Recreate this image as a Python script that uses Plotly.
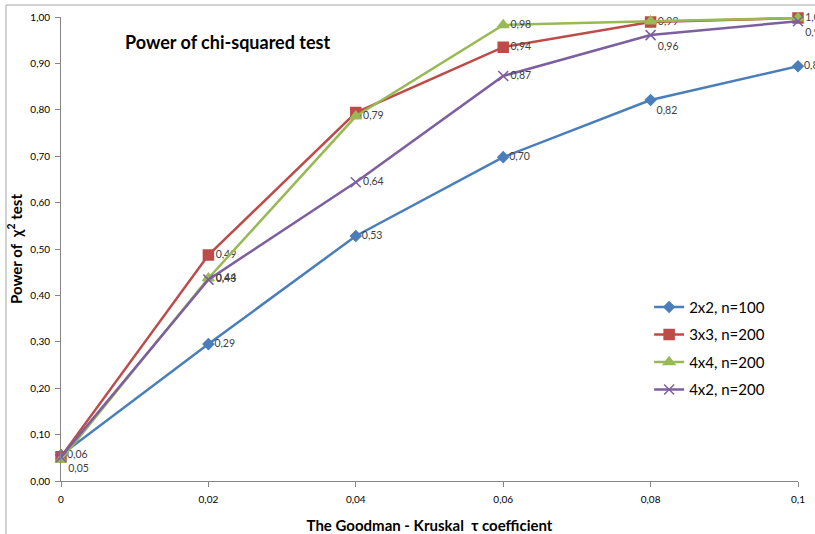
import plotly.graph_objects as go

tau = [0, 0.02, 0.04, 0.06, 0.08, 0.1]
names = ["2x2, n=100", "3x3, n=200", "4x4, n=200", "4x2, n=200"]
power_2x2 = [0.056, 0.295, 0.528, 0.698, 0.821, 0.894]
power_3x3 = [0.052, 0.487, 0.794, 0.935, 0.989, 0.998]
power_4x4 = [0.046, 0.437, 0.786, 0.983, 0.991, 0.998]
power_4x2 = [0.052, 0.434, 0.644, 0.873, 0.961, 0.991]
series = [power_2x2, power_3x3, power_4x4, power_4x2]

colors = ["#4A7EBB", "#BE4B48", "#98B954", "#7D5FA0"]
symbols = ["diamond", "square", "triangle-up", "x-thin"]
msizes = [8, 10, 10, 10]
label_pos = [
    ["middle right", "middle right", "middle right", "middle right", "bottom right", "middle right"],
    ["bottom right", "middle right", "middle right", "middle right", "middle right", "middle right"],
    ["bottom right", "middle right", "middle right", "middle right", "middle right", "middle right"],
    ["bottom right", "middle right", "middle right", "middle right", "bottom right", "bottom right"],
]
hide_label = [[], [2], [0, 4, 5], [0]]

fig = go.Figure()
for i, (nm, ys) in enumerate(zip(names, series)):
    txt = ["" if j in hide_label[i] else f"{v:.2f}".replace(".", ",") for j, v in enumerate(ys)]
    fig.add_trace(go.Scatter(
        x=tau, y=ys, name=nm, mode="lines+markers+text",
        text=txt, textposition=label_pos[i],
        textfont=dict(family="Lato, Liberation Sans, sans-serif", size=10.5, color="#404040"),
        line=dict(color=colors[i], width=2.5),
        marker=dict(symbol=symbols[i], size=msizes[i], color=colors[i],
                    line=dict(color=colors[i], width=1.5)),
        cliponaxis=False, legendgroup=f"g{i}",
    ))

fig.update_layout(
    width=815, height=534,
    margin=dict(l=61, r=17, t=17, b=53),
    paper_bgcolor="white", plot_bgcolor="white",
    separators=", ",
    font=dict(family="Lato, Liberation Sans, sans-serif", color="#000000"),
    showlegend=True,
    legend=dict(x=0.798, y=0.41, xanchor="left", yanchor="top",
                font=dict(size=15, color="#000000"),
                tracegroupgap=5, traceorder="grouped",
                bgcolor="rgba(0,0,0,0)"),
    xaxis=dict(range=[0, 0.1], tickvals=tau, showgrid=False, zeroline=False,
               automargin=False,
               showline=True, linecolor="#868686", linewidth=1,
               ticks="outside", ticklen=5, tickcolor="#868686",
               ticklabelstandoff=4,
               tickfont=dict(size=10, color="#000000"),
               title=dict(text="<b>The Goodman - Kruskal  τ coefficient</b>",
                          font=dict(size=15), standoff=18)),
    yaxis=dict(range=[0, 1], dtick=0.1, tickformat=".2f", showgrid=False, zeroline=False,
               automargin=False,
               showline=True, linecolor="#868686", linewidth=1,
               ticks="outside", ticklen=5, tickcolor="#868686",
               ticklabelstandoff=3,
               tickfont=dict(size=10, color="#000000"),
               title=dict(text="<b>Power of  χ<sup>2</sup> test</b>",
                          font=dict(size=15), standoff=4)),
    annotations=[dict(text="<b>Power of chi-squared test</b>", x=(227 - 61) / 737,
                      y=(481 - 42) / 464, xanchor="center", yanchor="middle",
                      xref="paper", yref="paper", showarrow=False,
                      font=dict(size=18, color="#000000"))],
    shapes=[dict(type="rect", xref="paper", yref="paper",
                 x0=(6 - 61) / 737, x1=(840 - 61) / 737,
                 y0=(481 - 560) / 464, y1=(481 - 5) / 464,
                 line=dict(color="#A6A6A6", width=1), layer="below")],
)

fig.write_html("out.html")
